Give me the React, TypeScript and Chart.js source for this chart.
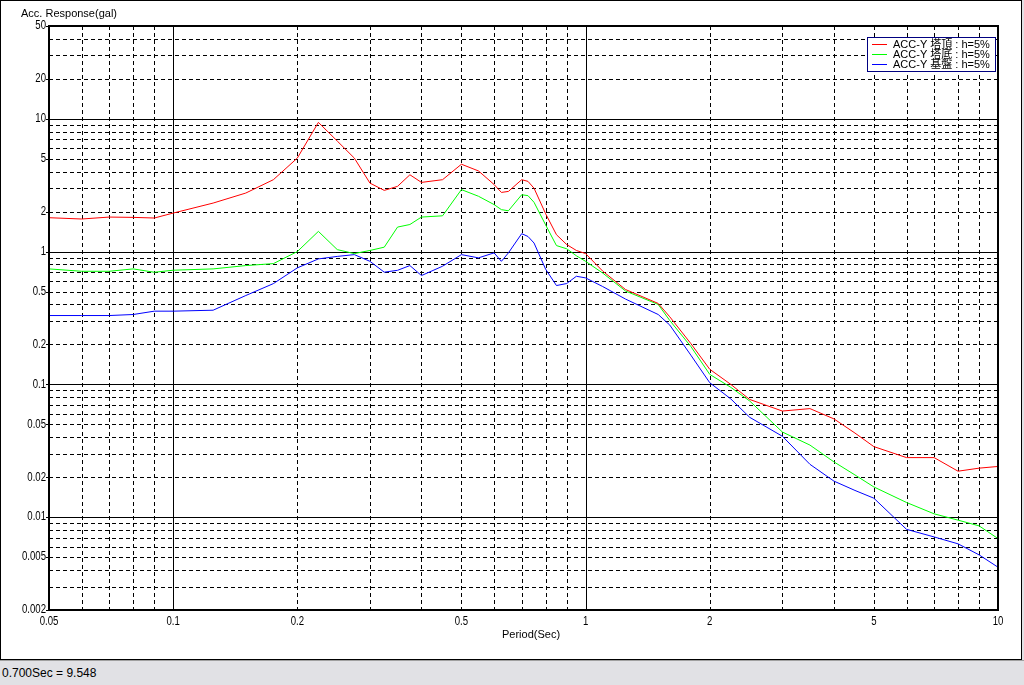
import React, { useEffect, useRef } from 'react';
import { Chart, registerables } from 'chart.js';

Chart.register(...registerables);

// ---- data ----
const periods = [
  0.05, 0.06, 0.07, 0.08, 0.09,
  0.1, 0.125, 0.15, 0.175, 0.2,
  0.225, 0.25, 0.275, 0.3, 0.325,
  0.35, 0.375, 0.4, 0.45, 0.5,
  0.55, 0.6, 0.625, 0.65, 0.7,
  0.725, 0.75, 0.8, 0.85, 0.9,
  0.95, 1.0, 1.1, 1.25, 1.5,
  1.6, 1.8, 2.0, 2.25, 2.5,
  3.0, 3.5, 4.0, 4.5, 5.0,
  6.0, 7.0, 8.0, 9.0, 10.0,
];

const topValues = [
  1.8, 1.76, 1.82, 1.81, 1.79,
  1.95, 2.32, 2.76, 3.48, 5.06,
  9.4, 6.8, 5.06, 3.28, 2.89,
  3.1, 3.79, 3.32, 3.48, 4.55,
  4.05, 3.2, 2.79, 2.84, 3.48,
  3.38, 3.0, 1.93, 1.34, 1.13,
  1.02, 0.966, 0.714, 0.518, 0.407,
  0.323, 0.203, 0.13, 0.1, 0.077,
  0.063, 0.0657, 0.055, 0.043, 0.034,
  0.0281, 0.0281, 0.0222, 0.0234, 0.0241,
];

const bottomValues = [
  0.741, 0.711, 0.711, 0.741, 0.699,
  0.724, 0.741, 0.785, 0.812, 1.0,
  1.42, 1.035, 0.966, 1.02, 1.08,
  1.53, 1.6, 1.82, 1.86, 2.93,
  2.61, 2.26, 2.07, 2.03, 2.68,
  2.64, 2.35, 1.59, 1.11, 1.05,
  0.93, 0.845, 0.69, 0.505, 0.4,
  0.303, 0.193, 0.119, 0.095, 0.075,
  0.0438, 0.0349, 0.0261, 0.0208, 0.0169,
  0.0129, 0.0106, 0.0095, 0.0086, 0.0069,
];

const baseValues = [
  0.33, 0.33, 0.33, 0.336, 0.356,
  0.356, 0.362, 0.467, 0.574, 0.754,
  0.881, 0.92, 0.949, 0.845, 0.7,
  0.723, 0.785, 0.66, 0.776, 0.949,
  0.897, 0.978, 0.845, 0.978, 1.365,
  1.3, 1.16, 0.738, 0.555, 0.575,
  0.652, 0.634, 0.546, 0.439, 0.336,
  0.28, 0.166, 0.103, 0.0777, 0.0565,
  0.0407, 0.025, 0.0187, 0.0159, 0.0139,
  0.0081, 0.0071, 0.0063, 0.0052, 0.0042,
];

const seriesLabels = ['ACC-Y 塔頂 : h=5%', 'ACC-Y 塔底 : h=5%', 'ACC-Y 基盤 : h=5%'];
const seriesColors = ['#ff0000', '#00ff00', '#0000ff'];

const xTickValues = [0.05, 0.1, 0.2, 0.5, 1, 2, 5, 10];
const xTickLabels = ['0.05', '0.1', '0.2', '0.5', '1', '2', '5', '10'];
const yTickValues = [0.002, 0.005, 0.01, 0.02, 0.05, 0.1, 0.2, 0.5, 1, 2, 5, 10, 20, 50];
const yTickLabels = ['0.002', '0.005', '0.01', '0.02', '0.05', '0.1', '0.2', '0.5', '1', '2', '5', '10', '20', '50'];

const yTitle = 'Acc. Response(gal)';
const xTitle = 'Period(Sec)';
const statusText = '0.700Sec = 9.548';

// ---- layout ----
const W = 1022;
const H = 660;
const PLOT_LEFT = 49;
const PLOT_RIGHT = 998;
const PLOT_TOP = 26;
const PLOT_BOTTOM = 610;

const textFont = "'Liberation Sans', 'Noto Sans CJK JP', Arial, sans-serif";
const NARROW = 0.8;

const gridPlugin = {
  id: 'logGrid',
  beforeDatasetsDraw(chart: any) {
    const { ctx, chartArea, scales } = chart;
    const { left, right, top, bottom } = chartArea;
    const xs = scales.x;
    const ys = scales.y;
    ctx.save();
    ctx.lineWidth = 1;
    ctx.strokeStyle = '#000';
    const yMin = ys.min, yMax = ys.max, xMin = xs.min, xMax = xs.max;
    // minor dashed
    ctx.setLineDash([4, 3]);
    ctx.beginPath();
    for (let e = -4; e <= 2; e++) {
      const d = Math.pow(10, e);
      for (let m = 2; m <= 9; m++) {
        const v = m * d;
        if (v > yMin * 1.0001 && v < yMax * 0.9999) {
          const py = Math.round(ys.getPixelForValue(v)) + 0.5;
          ctx.moveTo(left, py);
          ctx.lineTo(right, py);
        }
        if (v > xMin * 1.0001 && v < xMax * 0.9999) {
          const px = Math.round(xs.getPixelForValue(v)) + 0.5;
          ctx.moveTo(px, top);
          ctx.lineTo(px, bottom);
        }
      }
    }
    ctx.stroke();
    // major solid
    ctx.setLineDash([]);
    ctx.beginPath();
    for (let e = -4; e <= 2; e++) {
      const v = Math.pow(10, e);
      if (v > yMin * 1.0001 && v < yMax * 0.9999) {
        const py = Math.round(ys.getPixelForValue(v)) + 0.5;
        ctx.moveTo(left, py);
        ctx.lineTo(right, py);
      }
      if (v > xMin * 1.0001 && v < xMax * 0.9999) {
        const px = Math.round(xs.getPixelForValue(v)) + 0.5;
        ctx.moveTo(px, top);
        ctx.lineTo(px, bottom);
      }
    }
    ctx.stroke();
    ctx.restore();
  },
  afterDatasetsDraw(chart: any) {
    const { ctx, chartArea, scales } = chart;
    const { left, right, top, bottom } = chartArea;
    const xs = scales.x;
    const ys = scales.y;
    ctx.save();
    // frame
    ctx.setLineDash([]);
    ctx.strokeStyle = '#000';
    ctx.lineWidth = 2;
    ctx.strokeRect(left, top, right - left, bottom - top);
    // small outward ticks on y axis
    ctx.lineWidth = 1;
    ctx.beginPath();
    yTickValues.forEach((v) => {
      const py = Math.round(ys.getPixelForValue(v)) + 0.5;
      ctx.moveTo(left - 3, py);
      ctx.lineTo(left, py);
    });
    ctx.stroke();

    // tick labels (narrow bitmap-like look)
    ctx.fillStyle = '#000';
    ctx.font = `12px ${textFont}`;
    ctx.textBaseline = 'middle';
    ctx.textAlign = 'right';
    yTickValues.forEach((v, i) => {
      const py = ys.getPixelForValue(v);
      ctx.save();
      ctx.translate(left - 3, py);
      ctx.scale(NARROW, 1);
      ctx.fillText(yTickLabels[i], 0, 0);
      ctx.restore();
    });
    ctx.textAlign = 'center';
    xTickValues.forEach((v, i) => {
      const px = xs.getPixelForValue(v);
      ctx.save();
      ctx.translate(px, bottom + 12);
      ctx.scale(NARROW, 1);
      ctx.fillText(xTickLabels[i], 0, 0);
      ctx.restore();
    });

    // legend
    const lx = 867, ly = 37, lw = 129, lh = 35;
    ctx.fillStyle = '#fff';
    ctx.fillRect(lx, ly, lw, lh);
    ctx.strokeStyle = '#000080';
    ctx.lineWidth = 1;
    ctx.strokeRect(lx + 0.5, ly + 0.5, lw - 1, lh - 1);
    ctx.font = `11px ${textFont}`;
    ctx.textBaseline = 'middle';
    ctx.textAlign = 'left';
    seriesLabels.forEach((lab, i) => {
      const yy = ly + 7 + i * 10;
      ctx.strokeStyle = seriesColors[i];
      ctx.lineWidth = 1;
      ctx.beginPath();
      ctx.moveTo(872, yy + 0.5);
      ctx.lineTo(887, yy + 0.5);
      ctx.stroke();
      ctx.fillStyle = '#000';
      ctx.fillText(lab, 893, yy + 1);
    });

    // titles
    ctx.fillStyle = '#000';
    ctx.font = `11px ${textFont}`;
    ctx.textAlign = 'left';
    ctx.textBaseline = 'middle';
    ctx.fillText(yTitle, 21, 14);
    ctx.textAlign = 'center';
    ctx.fillText(xTitle, 531, 635);

    // outer window border
    ctx.strokeStyle = '#000';
    ctx.lineWidth = 1;
    ctx.strokeRect(0.5, 0.5, W - 1, H - 1);
    ctx.restore();
  },
};

export default function App() {
  const canvasRef = useRef<HTMLCanvasElement | null>(null);

  useEffect(() => {
    const canvas = canvasRef.current;
    if (!canvas) return;
    const datasets = [topValues, bottomValues, baseValues].map((vals, i) => ({
      label: seriesLabels[i],
      data: periods.map((p, j) => ({ x: p, y: vals[j] })),
      borderColor: seriesColors[i],
      backgroundColor: seriesColors[i],
      borderWidth: 1,
      pointRadius: 0,
      tension: 0,
      fill: false,
    }));

    const chart = new Chart(canvas, {
      type: 'line',
      data: { datasets: datasets as any },
      options: {
        responsive: false,
        animation: false,
        devicePixelRatio: 1,
        events: [],
        layout: { padding: { left: 0, top: PLOT_TOP, right: W - PLOT_RIGHT, bottom: 0 } },
        plugins: {
          legend: { display: false },
          tooltip: { enabled: false },
          title: { display: false },
        },
        scales: {
          x: {
            type: 'logarithmic',
            min: 0.05,
            max: 10,
            grid: { display: false, drawTicks: false },
            border: { display: false },
            afterBuildTicks: (s: any) => {
              s.ticks = xTickValues.map((v) => ({ value: v }));
            },
            afterFit: (s: any) => {
              s.height = H - PLOT_BOTTOM;
            },
            ticks: { display: false, autoSkip: false },
          },
          y: {
            type: 'logarithmic',
            min: 0.002,
            max: 50,
            grid: { display: false, drawTicks: false },
            border: { display: false },
            afterBuildTicks: (s: any) => {
              s.ticks = yTickValues.map((v) => ({ value: v }));
            },
            afterFit: (s: any) => {
              s.width = PLOT_LEFT;
            },
            ticks: { display: false, autoSkip: false },
          },
        },
      } as any,
      plugins: [gridPlugin],
    });
    return () => chart.destroy();
  }, []);

  return (
    <div style={{ position: 'fixed', left: 0, top: 0, width: 1024, height: 685, background: '#e1e1e5', overflow: 'hidden' }}>
      <div style={{ position: 'absolute', left: 0, top: 0, width: W, height: H, background: '#fff' }} />
      <canvas ref={canvasRef} width={W} height={H} style={{ position: 'absolute', left: 0, top: 0, width: W, height: H, display: 'block' }} />
      <div style={{ position: 'absolute', left: 0, top: H, width: 1024, height: 1, background: '#a0a0a0' }} />
      <div
        style={{
          position: 'absolute',
          left: 2,
          top: H + 1,
          height: 24,
          lineHeight: '24px',
          fontFamily: textFont,
          fontSize: 12,
          color: '#000',
          whiteSpace: 'nowrap',
        }}
      >
        {statusText}
      </div>
    </div>
  );
}
